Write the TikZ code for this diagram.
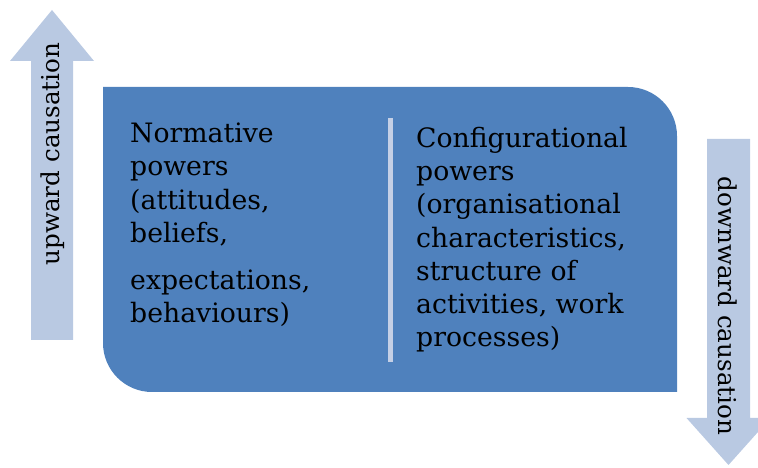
\documentclass[tikz,border=0pt]{standalone}
\usepackage{fontspec}
\setmainfont{DejaVu Serif}
\definecolor{boxblue}{HTML}{4F81BD}
\definecolor{arrowblue}{HTML}{B9C9E2}
\definecolor{rulegrey}{HTML}{C5D0E6}
\tikzset{
  x=1pt, y=1pt,
  bigarrow/.style={fill=arrowblue},
  bodytext/.style={align=left, inner sep=0pt, anchor=base west,
    font=\fontsize{26.7}{33.3}\selectfont, text=black},
  arrowtext/.style={inner sep=0pt, font=\fontsize{24.6}{30}\selectfont, text=black}
}
\begin{document}
\begin{tikzpicture}
\clip (0,0) rectangle (758,468);
\useasboundingbox (0,0) rectangle (758,468);

% upward arrow on the left
\fill[bigarrow] (31,128) -- (31,407) -- (10,407) -- (52,458) -- (94,407) -- (73,407) -- (73,128) -- cycle;
% downward arrow on the right
\fill[bigarrow] (707,329) -- (707,50) -- (686.5,50) -- (728.5,3) -- (770.5,50) -- (750,50) -- (750,329) -- cycle;

% central panel with two rounded corners
\fill[boxblue] (103,381) -- (628,381) arc[start angle=90, end angle=0, radius=49]
  -- (677,76) -- (152,76) arc[start angle=270, end angle=180, radius=49] -- cycle;

% divider between the two columns
\coordinate (divtop) at (390.5,350);
\coordinate (divbot) at (390.5,106);
\draw[rulegrey, line width=5pt] (divtop) -- (divbot);

% multi-line nodes are anchored on the baseline of their last line
\node[bodytext] (normative) at (130,145)
  {Normative\\powers\\(attitudes,\\beliefs,\\[14pt]expectations,\\behaviours)};
\node[bodytext] (config) at (416,121)
  {Configurational\\powers\\(organisational\\characteristics,\\structure of\\activities, work\\processes)};

\node[arrowtext, rotate=90] (up) at (53,314) {upward causation};
\node[arrowtext, rotate=-90] (down) at (728,162) {downward causation};
\end{tikzpicture}
\end{document}
